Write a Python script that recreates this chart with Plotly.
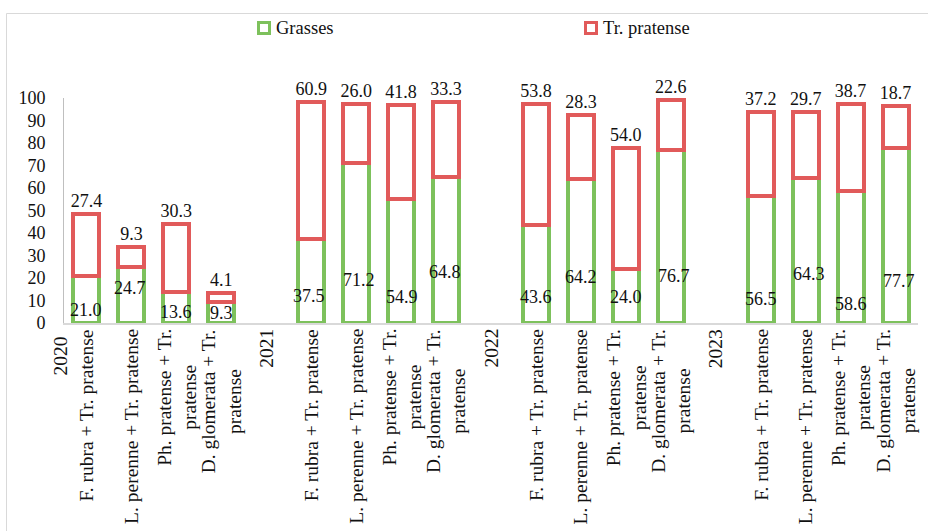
import plotly.graph_objects as go

# ---- data -------------------------------------------------------------
years = ["2020", "2021", "2022", "2023"]
mixes = [
    "F. rubra + Tr. pratense",
    "L. perenne + Tr. pratense",
    "Ph. pratense + Tr.<br>pratense",
    "D. glomerata + Tr.<br>pratense",
]
# share of grasses and of red clover, per year (4 mixtures each)
grasses = [21.0, 24.7, 13.6, 9.3,
           37.5, 71.2, 54.9, 64.8,
           43.6, 64.2, 24.0, 76.7,
           56.5, 64.3, 58.6, 77.7]
clover = [27.4, 9.3, 30.3, 4.1,
          60.9, 26.0, 41.8, 33.3,
          53.8, 28.3, 54.0, 22.6,
          37.2, 29.7, 38.7, 18.7]
y_ticks = [0, 10, 20, 30, 40, 50, 60, 70, 80, 90, 100]

# label placement for the grass values (axis units / pixel nudges)
grass_label_y = [5.7, 15.5, 4.8, 4.3,
                 11.9, 19.0, 11.5, 22.6,
                 11.5, 20.4, 11.5, 20.8,
                 10.6, 21.7, 8.3, 18.6]
grass_label_dx = [0, -1, 0, 0,
                  -2, 3, 1, -1,
                  0, 0, 0, 3,
                  0, 3, 0, 3]

# ---- styling ------------------------------------------------------------
GREEN = "#7DC15C"
RED = "#E15A5A"
FONT = "Liberation Serif"
TXT = "#111111"
W, H = 928, 531
L, R, T, B = 64, 10, 98, 208
PW, PH = W - L - R, H - T - B


def px_x(x):
    return (x - L) / PW


def px_y(y):
    return (H - B - y) / PH


# one category slot per year followed by its four mixtures
categories, g_vals, c_vals, slot_of = [], [], [], []
for i, yr in enumerate(years):
    categories.append(yr)
    g_vals.append(None)
    c_vals.append(None)
    for j, m in enumerate(mixes):
        slot_of.append(len(categories))
        categories.append(m)
        g_vals.append(grasses[4 * i + j])
        c_vals.append(clover[4 * i + j])
x_idx = list(range(len(categories)))

fig = go.Figure()
fig.add_bar(
    x=x_idx, y=g_vals, width=0.578, name="Grasses",
    marker=dict(color="white", line=dict(color=GREEN, width=4)),
    showlegend=False, hoverinfo="skip",
)
fig.add_bar(
    x=x_idx, y=c_vals, width=0.578, name="Tr. pratense",
    marker=dict(color="white", line=dict(color=RED, width=4)),
    text=["" if v is None else f"{v:.1f}" for v in c_vals],
    textposition="outside", constraintext="none", cliponaxis=False,
    textfont=dict(family=FONT, size=18, color=TXT),
    showlegend=False, hoverinfo="skip",
)

annotations = []
# grass values inside the green segments
for k, v in enumerate(grasses):
    annotations.append(dict(
        x=slot_of[k], y=grass_label_y[k], xref="x", yref="y",
        text=f"{v:.1f}", showarrow=False, xshift=grass_label_dx[k],
        font=dict(family=FONT, size=18, color=TXT),
    ))

# rotated category labels under the axis; the first year slot lies left
# of the visible range, so its label is pinned just inside the chart
for idx, name in enumerate(categories):
    if idx == 0:
        pos = dict(x=px_x(60), xref="paper", yshift=-12)
    else:
        pos = dict(x=idx, xref="x", yshift=-4)
    annotations.append(dict(
        y=0, yref="paper", text=name, textangle=-90, showarrow=False,
        xanchor="center", yanchor="top", align="center",
        font=dict(family=FONT, size=19.5, color=TXT), **pos,
    ))

# chart frame and legend
shapes = [dict(type="rect", xref="paper", yref="paper",
               x0=px_x(6.5), x1=px_x(940), y0=px_y(13.5), y1=px_y(600),
               line=dict(color="#D9D9D9", width=1), fillcolor="rgba(0,0,0,0)",
               layer="below")]
for label, col, x0 in [("Grasses", GREEN, 258.5), ("Tr. pratense", RED, 585.5)]:
    shapes.append(dict(type="rect", xref="paper", yref="paper",
                       x0=px_x(x0), x1=px_x(x0 + 11), y0=px_y(22.5), y1=px_y(33.5),
                       line=dict(color=col, width=3), fillcolor="white"))
    annotations.append(dict(
        x=px_x(x0 + 15.5), y=px_y(28), xref="paper", yref="paper",
        text=label, showarrow=False, xanchor="left", yanchor="middle",
        font=dict(family=FONT, size=18.5, color=TXT),
    ))

fig.update_layout(
    width=W, height=H,
    margin=dict(l=L, r=R, t=T, b=B),
    barmode="stack",
    paper_bgcolor="white", plot_bgcolor="white",
    font=dict(family=FONT, size=18, color=TXT),
    showlegend=False,
    annotations=annotations,
    shapes=shapes,
    xaxis=dict(range=[0.5, 19.5], showline=True, linecolor="#D9D9D9",
               linewidth=1.5, showticklabels=False, showgrid=False,
               zeroline=False, ticks="", fixedrange=True),
    yaxis=dict(range=[0, 100], tickvals=y_ticks, showline=True,
               linecolor="#BFBFBF", linewidth=1, showgrid=False,
               zeroline=False, ticks="", ticklabelstandoff=14,
               fixedrange=True),
)

fig.write_html("out.html", config={"displayModeBar": False})
